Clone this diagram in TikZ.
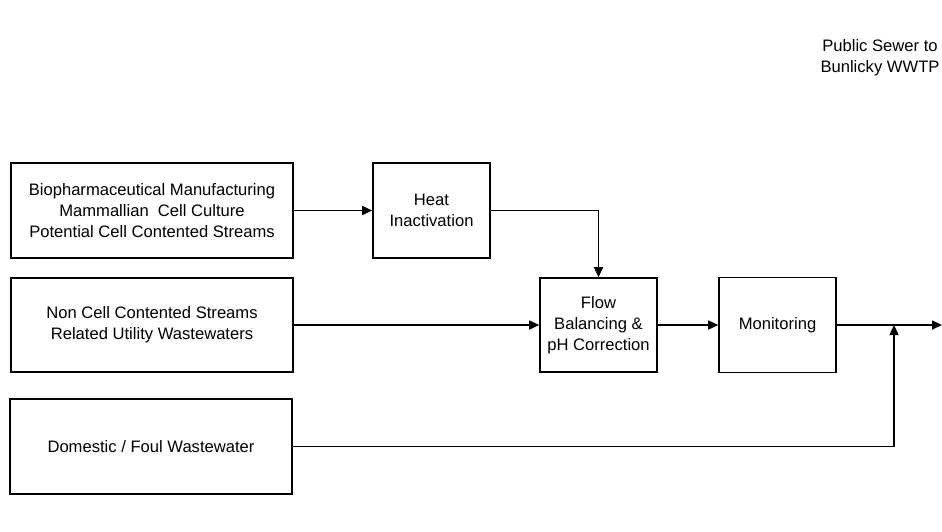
\documentclass[tikz,border=0pt]{standalone}
\usepackage{fontspec}
\setmainfont{Liberation Sans}
\usetikzlibrary{arrows.meta}
\begin{document}
\begin{tikzpicture}[x=1pt,y=-1pt,
  proc/.style={draw=black, line width=1.6pt, rectangle, align=center,
    inner sep=0pt, font=\fontsize{16.6}{20.8}\selectfont},
  flow/.style={draw=black, line width=1.6pt, -{Triangle[length=10pt,width=9pt]}},
  caption/.style={align=center, inner sep=0pt, font=\fontsize{16.6}{20.8}\selectfont}]
  \useasboundingbox (0,0) rectangle (942,531);
  % process boxes
  \node[proc, minimum width=282pt, minimum height=95pt] (bio) at (152,210.5)
    {Biopharmaceutical Manufacturing\\Mammallian\ \ Cell Culture\\Potential Cell Contented Streams};
  \node[proc, minimum width=117pt, minimum height=95pt] (heat) at (431.5,210.5)
    {Heat\\Inactivation};
  \node[proc, minimum width=282pt, minimum height=94pt] (noncell) at (152,325)
    {Non Cell Contented Streams\\Related Utility Wastewaters};
  \node[proc, minimum width=117pt, minimum height=94pt] (bal) at (598.5,325)
    {Flow\\Balancing \&\\pH Correction};
  \node[proc, minimum width=117pt, minimum height=95pt] (mon) at (777.5,325)
    {Monitoring};
  \node[proc, minimum width=282pt, minimum height=95pt] (dom) at (151,446.5)
    {Domestic / Foul Wastewater};
  \node[caption] (sewer) at (880,58) {Public Sewer to\\Bunlicky WWTP};
  % junction and discharge point
  \coordinate (join) at (894,325);
  \coordinate (outlet) at (942,325);
  % connectors
  \draw[flow] (bio.east) -- (heat.west);
  \draw[flow] (heat.east) -| (bal.north);
  \draw[flow] (noncell.east) -- (bal.west);
  \draw[flow] (bal.east) -- (mon.west);
  \draw[flow] (mon.east) -- (outlet);
  \draw[flow] (dom.east) -| (join);
\end{tikzpicture}
\end{document}
